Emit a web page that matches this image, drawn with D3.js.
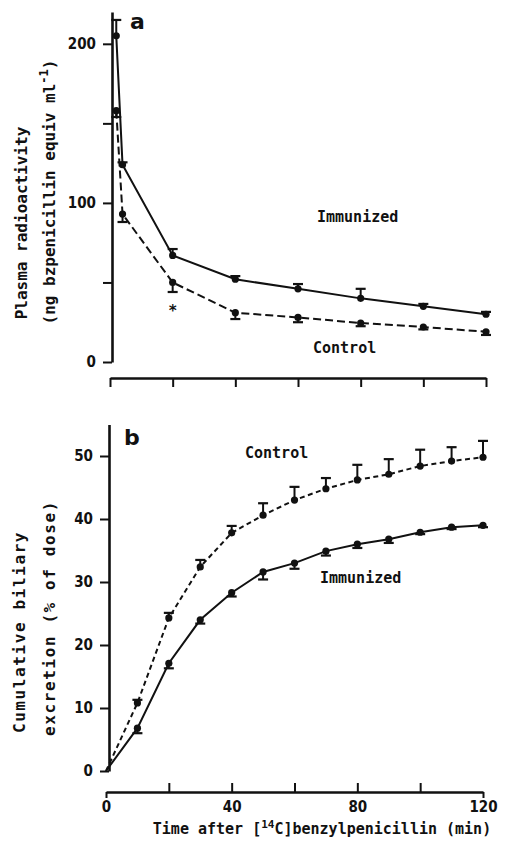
<!DOCTYPE html>
<html>
<head>
<meta charset="utf-8">
<script src="https://cdn.jsdelivr.net/npm/d3@7"></script>
<style>
  body { margin: 0; background: #fff; }
  svg { display: block; }
  .num { font-family: "DejaVu Sans Condensed", "DejaVu Sans", sans-serif; font-weight: bold; font-size: 15px; fill: #111; }
  .lab { font-family: "DejaVu Sans Mono", monospace; font-weight: bold; font-size: 15px; fill: #111; }
  .title { font-family: "DejaVu Sans Mono", monospace; font-weight: bold; font-size: 16px; fill: #111; }
  .panel { font-family: "DejaVu Sans", sans-serif; font-weight: bold; font-size: 22px; fill: #111; }
</style>
</head>
<body>
<div id="chart"></div>
<script>
(function() {

    // panel a: plasma radioactivity
    const timesA = [2, 4, 20, 40, 60, 80, 100, 120];
    const immunizedA = [205, 124, 67, 52, 46, 40, 35, 30];
    const immunizedAErr = [10, 1.5, 4, 2, 3, 6, 1.5, 1.5];
    const controlA = [158, 93, 50, 31, 28, 24.5, 22, 19];
    const controlAErr = [4, 5, 6, 4, 3, 2, 1.5, 2];

    // panel b: cumulative biliary excretion
    const timesB = [0, 10, 20, 30, 40, 50, 60, 70, 80, 90, 100, 110, 120];
    const controlB = [0, 10.8, 24.3, 32.4, 37.8, 40.6, 43.0, 44.8, 46.2, 47.1, 48.4, 49.2, 49.8];
    const controlBErr = [0, 0.5, 0.8, 1.1, 1.1, 1.9, 2.1, 1.7, 2.4, 2.4, 2.6, 2.2, 2.6];
    const immunizedB = [0, 6.8, 17.1, 24.0, 28.3, 31.6, 33.0, 34.9, 36.0, 36.8, 37.9, 38.7, 39.0];
    const immunizedBErr = [0, 0.8, 0.8, 0.6, 0.6, 1.2, 0.9, 0.7, 0.6, 0.6, 0.3, 0.3, 0.3];

    const xTicks = [0, 20, 40, 60, 80, 100, 120];
    const yTicksA = [0, 50, 100, 150, 200];
    const yTicksB = [0, 10, 20, 30, 40, 50];

    const ink = "#111";

    let svg = d3.select("#chart").append("svg")
                .attr("width", 510)
                .attr("height", 852);

    svg.append("rect").attr("width", 510).attr("height", 852).attr("fill", "#fff");

    let xA = d3.scaleLinear().domain([0, 120]).range([110, 486]);
    let yA = d3.scaleLinear().domain([0, 220]).range([362, 12]);
    let xB = d3.scaleLinear().domain([0, 120]).range([106, 483]);
    let yB = d3.scaleLinear().domain([0, 55]).range([771, 424.5]);

    function styleAxis(g) {
        g.select(".domain").attr("stroke", ink).attr("stroke-width", 2.6);
        g.selectAll(".tick line").attr("stroke", ink).attr("stroke-width", 2);
        g.selectAll(".tick text").attr("class", "num").attr("fill", ink);
    }

    // ----- panel a axes
    svg.append("g")
        .attr("transform", "translate(112,0)")
        .call(d3.axisLeft(yA).tickValues(yTicksA).tickSize(9).tickSizeOuter(0).tickPadding(7)
              .tickFormat(d => d % 100 === 0 ? d : ""))
        .call(styleAxis);

    svg.append("g")
        .attr("transform", "translate(0,378)")
        .call(d3.axisBottom(xA).tickValues(xTicks).tickSize(9).tickSizeOuter(0).tickFormat(""))
        .call(styleAxis);

    // ----- panel b axes
    svg.append("g")
        .attr("transform", "translate(109,0)")
        .call(d3.axisLeft(yB).tickValues(yTicksB).tickSize(9).tickSizeOuter(0).tickPadding(7))
        .call(styleAxis);

    let xAxisB = svg.append("g")
        .attr("transform", "translate(0,792)")
        .call(d3.axisBottom(xB).tickValues(xTicks).tickSize(-9).tickSizeOuter(0).tickPadding(9)
              .tickFormat(d => d % 40 === 0 ? d : ""))
        .call(styleAxis);
    xAxisB.selectAll(".tick line").filter(d => d === 0 || d === 120).attr("y2", 6);

    // ----- series
    function drawSeries(x, y, times, vals, errs, dir, dash) {
        let pts = times.map((t, i) => ({t: t, v: vals[i], e: errs[i]}));
        svg.append("path")
            .datum(pts)
            .attr("fill", "none")
            .attr("stroke", ink)
            .attr("stroke-width", 2)
            .attr("stroke-dasharray", dash)
            .attr("d", d3.line().x(d => x(d.t)).y(d => y(d.v)));

        let bars = svg.append("g").selectAll("g")
            .data(pts.filter(d => d.e > 0))
            .join("g");
        bars.append("line")
            .attr("x1", d => x(d.t)).attr("x2", d => x(d.t))
            .attr("y1", d => y(d.v)).attr("y2", d => y(d.v + dir * d.e))
            .attr("stroke", ink).attr("stroke-width", 2);
        bars.append("line")
            .attr("x1", d => x(d.t) - 5).attr("x2", d => x(d.t) + 5)
            .attr("y1", d => y(d.v + dir * d.e)).attr("y2", d => y(d.v + dir * d.e))
            .attr("stroke", ink).attr("stroke-width", 2.2);

        svg.append("g").selectAll("circle")
            .data(pts.filter(d => d.t > 0))
            .join("circle")
            .attr("cx", d => x(d.t))
            .attr("cy", d => y(d.v))
            .attr("r", 3.6)
            .attr("fill", ink);
    }

    drawSeries(xA, yA, timesA, immunizedA, immunizedAErr, 1, null);
    drawSeries(xA, yA, timesA, controlA, controlAErr, -1, "8,4");
    drawSeries(xB, yB, timesB, immunizedB, immunizedBErr, -1, null);
    drawSeries(xB, yB, timesB, controlB, controlBErr, 1, "5,3.5");

    // ----- labels
    svg.append("text").attr("class", "panel").attr("x", 130).attr("y", 29).text("a");
    svg.append("text").attr("class", "panel").attr("x", 124).attr("y", 445).text("b");

    svg.append("text").attr("class", "lab").attr("x", 317).attr("y", 222).text("Immunized");
    svg.append("text").attr("class", "lab").attr("x", 313).attr("y", 353).text("Control");
    svg.append("text").attr("class", "lab").attr("x", 245).attr("y", 458).text("Control");
    svg.append("text").attr("class", "lab").attr("x", 320).attr("y", 583).text("Immunized");
    svg.append("text").attr("class", "lab").attr("x", xA(20)).attr("y", 316)
        .attr("text-anchor", "middle").text("*");

    // y titles
    svg.append("text").attr("class", "title")
        .attr("transform", "translate(27,223) rotate(-90)")
        .attr("text-anchor", "middle")
        .text("Plasma radioactivity");
    let t2 = svg.append("text").attr("class", "title")
        .attr("transform", "translate(55,192) rotate(-90)")
        .attr("text-anchor", "middle");
    t2.append("tspan").text("(ng bzpenicillin equiv ml");
    t2.append("tspan").attr("dy", -7).attr("font-size", 12).text("-1");
    t2.append("tspan").attr("dy", 7).text(")");

    svg.append("text").attr("class", "title")
        .attr("transform", "translate(25,632) rotate(-90)")
        .attr("text-anchor", "middle")
        .style("letter-spacing", "1.6px")
        .text("Cumulative biliary");
    svg.append("text").attr("class", "title")
        .attr("transform", "translate(55,618) rotate(-90)")
        .attr("text-anchor", "middle")
        .style("letter-spacing", "1.6px")
        .text("excretion (% of dose)");

    // x title
    let xt = svg.append("text").attr("class", "lab")
        .attr("x", 322).attr("y", 834)
        .attr("text-anchor", "middle");
    xt.append("tspan").text("Time after [");
    xt.append("tspan").attr("dy", -6).attr("font-size", 11).text("14");
    xt.append("tspan").attr("dy", 6).text("C]benzylpenicillin (min)");

})();
</script>
</body>
</html>
